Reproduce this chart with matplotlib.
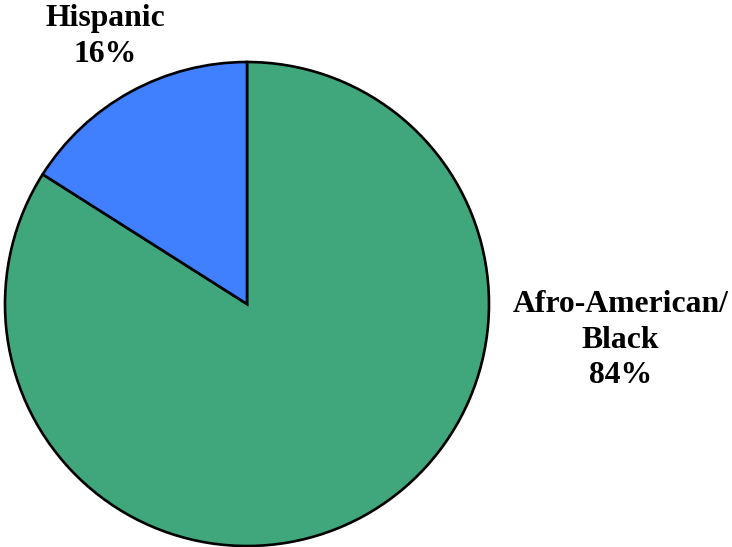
import matplotlib.pyplot as plt

# data
labels = ['Afro-American/\nBlack', 'Hispanic']
shares = [84, 16]
colors = ['#3FA77B', '#4080FF']

plt.rcParams['font.family'] = ['Liberation Serif', 'DejaVu Serif']

fig = plt.figure(figsize=(7.32, 5.47), dpi=100)
ax = fig.add_axes([5 / 732, 1 / 547, 484 / 732, 484 / 547])

wedges, _ = ax.pie(shares, colors=colors, startangle=90, counterclock=False,
                   wedgeprops=dict(edgecolor='black', linewidth=1.9))
ax.set_xlim(-1, 1)
ax.set_ylim(-1, 1)
ax.set_aspect('equal')
ax.axis('off')

# label placement (data coords of the pie)
label_pos = [(1.543, -0.15), (-0.587, 1.105)]
for lab, v, (x, y) in zip(labels, shares, label_pos):
    ax.text(x, y, '%s\n%d%%' % (lab, v), ha='center', va='center',
            fontsize=22.8, fontweight='bold', linespacing=1.3, clip_on=False)

fig.savefig('out.png', dpi=100)
